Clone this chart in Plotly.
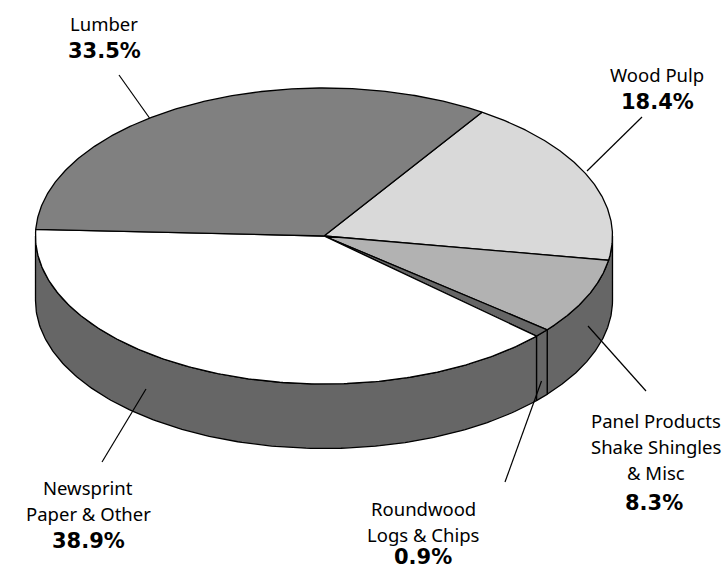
import numpy as np
import plotly.graph_objects as go

categories = ["Wood Pulp", "Panel Products", "Roundwood", "Newsprint", "Lumber"]
shares = [18.4, 8.3, 0.9, 38.9, 33.5]
top_colors = ["#d9d9d9", "#b2b2b2", "#666666", "#ffffff", "#808080"]
SIDE = "#666666"

CX, CY, RX, RY, DEPTH = 324.0, 236.0, 288.5, 148.0, 64.5
START = 56.8

def px(a):
    return CX + RX * np.cos(np.radians(a))

def py(a):
    return CY - RY * np.sin(np.radians(a))

fig = go.Figure()

def poly(xs, ys, color, lw=1.3):
    fig.add_trace(go.Scatter(x=xs, y=ys, mode="lines", fill="toself", fillcolor=color,
                             line=dict(color="black", width=lw), hoverinfo="skip", showlegend=False))

ends = START - 3.6 * np.cumsum(shares)
starts = np.concatenate([[START], ends[:-1]])

# rim: merge the rim of Wood Pulp and Panel Products (no seam in the reference)
rim_spans = [(0.0, ends[1]), (ends[1], ends[2]), (ends[2], -180.0)]
for a0, a1 in rim_spans:
    a = np.linspace(a0, a1, 160)
    xs = np.concatenate([px(a), px(a[::-1])])
    ys = np.concatenate([py(a), py(a[::-1]) + DEPTH])
    poly(np.append(xs, xs[0]), np.append(ys, ys[0]), SIDE)

# top faces
for a0, a1, c in zip(starts, ends, top_colors):
    a = np.linspace(a0, a1, 220)
    xs = np.concatenate([[CX], px(a), [CX]])
    ys = np.concatenate([[CY], py(a), [CY]])
    poly(xs, ys, c)

leaders = [
    ((119, 75), (149.5, 118)),
    ((642, 117), (587, 171)),
    ((588, 326), (646, 391)),
    ((541.5, 381), (505, 482)),
    ((146, 389), (102, 462)),
]
shapes = [dict(type="line", x0=p[0], y0=p[1], x1=q[0], y1=q[1],
               line=dict(color="black", width=1.2)) for p, q in leaders]

labels = [
    ("Lumber", 104, 23, False), ("33.5%", 104, 51, True),
    ("Wood Pulp", 657, 74, False), ("18.4%", 657, 102, True),
    ("Panel Products", 656, 420, False), ("Shake Shingles", 656, 446, False),
    ("&amp; Misc", 656, 472, False), ("8.3%", 654, 503, True),
    ("Roundwood", 423, 508, False), ("Logs &amp; Chips", 423, 534, False), ("0.9%", 423, 556.5, True),
    ("Newsprint", 88, 487, False), ("Paper &amp; Other", 88, 513, False), ("38.9%", 88, 541, True),
]
ann = []
for t, x, y, b in labels:
    font = dict(family="DejaVu Sans", size=21, color="black") if b else dict(family="Noto Sans", size=18.5, color="black")
    ann.append(dict(x=x, y=y, text=f"<b>{t}</b>" if b else t, showarrow=False,
                    xanchor="center", yanchor="middle", font=font))

fig.update_layout(
    width=726, height=570, margin=dict(l=0, r=0, t=0, b=0), autosize=False,
    paper_bgcolor="white", plot_bgcolor="white", shapes=shapes, annotations=ann,
    xaxis=dict(range=[0, 726], visible=False, fixedrange=True),
    yaxis=dict(range=[570, 0], visible=False, fixedrange=True),
)
fig.write_html("out.html", config={"displayModeBar": False},
               post_script="document.body.style.margin='0';")
